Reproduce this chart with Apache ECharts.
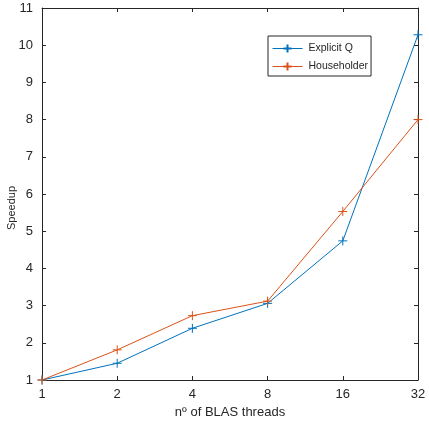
<!DOCTYPE html>
<html><head><meta charset="utf-8">
<script src="https://cdn.jsdelivr.net/npm/echarts@6/dist/echarts.min.js"></script>
<style>html,body{margin:0;padding:0;background:#fff}#c{width:429px;height:428px}</style>
</head><body><div id="c"></div>
<script>
const threads = [1, 2, 4, 8, 16, 32];
const explicitQ = [1, 1.45, 2.39, 3.06, 4.74, 10.28];
const householder = [1, 1.81, 2.73, 3.12, 5.53, 8.0];
const seriesNames = ['Explicit Q', 'Householder'];
const colors = ['#0072BD', '#D95319'];
const axisColor = '#262626';
const plus = 'path://M5,0 L5,10 M0,5 L10,5';

const chart = echarts.init(document.getElementById('c'), null, {renderer: 'canvas'});
function mk(name, vals, color) {
  return {
    name: name, type: 'line', data: threads.map((t, i) => [t, vals[i]]),
    symbol: plus, symbolSize: 9, showSymbol: true,
    lineStyle: {color: color, width: 1},
    itemStyle: {color: 'none', borderColor: color, borderWidth: 1},
    animation: false
  };
}
const tickStyle = {inside: true, length: 4, lineStyle: {color: axisColor}};
chart.setOption({
  animation: false,
  grid: {left: 42, right: 11, top: 8, bottom: 48, containLabel: false, outerBoundsMode: 'none'},
  legend: {
    left: 268, top: 36, orient: 'vertical', itemWidth: 30, itemHeight: 10, itemGap: 5,
    padding: [6, 3, 3, 4],
    borderColor: axisColor, borderWidth: 1, backgroundColor: '#fff',
    lineStyle: {width: 1},
    textStyle: {fontFamily: 'Liberation Sans', fontSize: 10.5, color: axisColor, padding: [0, 0, 0, 1]},
    data: seriesNames
  },
  xAxis: [{
    type: 'log', logBase: 2, min: 1, max: 32,
    name: 'nº of BLAS threads', nameLocation: 'middle', nameGap: 26,
    nameTextStyle: {fontFamily: 'Liberation Sans', fontSize: 13, color: axisColor},
    axisLine: {lineStyle: {color: axisColor, width: 1}},
    axisTick: tickStyle,
    axisLabel: {fontFamily: 'Liberation Sans', fontSize: 13, color: axisColor, margin: 8},
    splitLine: {show: false}
  }, {
    type: 'log', logBase: 2, min: 1, max: 32, position: 'top',
    axisLine: {lineStyle: {color: axisColor, width: 1}},
    axisTick: tickStyle, axisLabel: {show: false}, splitLine: {show: false}
  }],
  yAxis: [{
    type: 'value', min: 1, max: 11, interval: 1,
    name: 'Speedup', nameLocation: 'middle', nameGap: 30, nameMoveOverlap: false,
    nameTextStyle: {fontFamily: 'Liberation Sans', fontSize: 11, color: axisColor, verticalAlign: 'middle', padding: [0, 28, 0, 0]},
    axisLine: {show: true, lineStyle: {color: axisColor, width: 1}},
    axisTick: tickStyle,
    axisLabel: {fontFamily: 'Liberation Sans', fontSize: 13, color: axisColor, margin: 9},
    splitLine: {show: false}
  }, {
    type: 'value', min: 1, max: 11, interval: 1, position: 'right',
    axisLine: {show: true, lineStyle: {color: axisColor, width: 1}},
    axisTick: tickStyle, axisLabel: {show: false}, splitLine: {show: false}
  }],
  series: [mk(seriesNames[0], explicitQ, colors[0]), mk(seriesNames[1], householder, colors[1])]
});
</script></body></html>
